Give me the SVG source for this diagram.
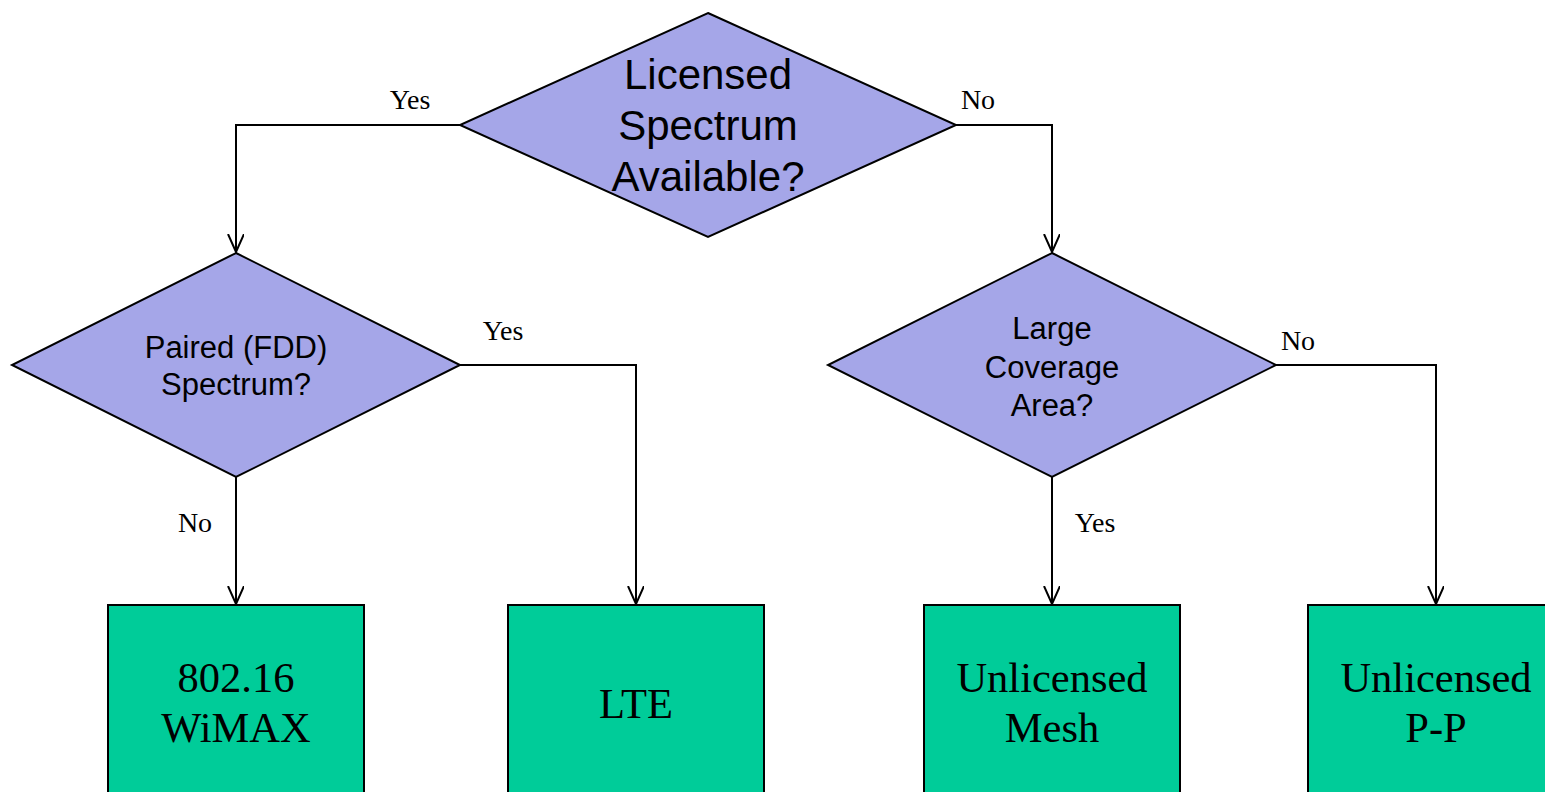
<svg xmlns="http://www.w3.org/2000/svg" width="1545" height="792" viewBox="0 0 1545 792">
<style>
.d{fill:#A5A6E8;stroke:#000;stroke-width:2}
.b{fill:#00CC99;stroke:#000;stroke-width:2}
.c{fill:none;stroke:#000;stroke-width:2}
.a{font-family:"Liberation Sans",Arial,sans-serif;fill:#000;text-anchor:middle}
.t{font-family:"Liberation Serif","Times New Roman",serif;fill:#000;text-anchor:middle}
.l{font-family:"Liberation Serif","Times New Roman",serif;fill:#000;font-size:28px;text-anchor:middle}
</style>
<defs>
<marker id="arr" markerWidth="20" markerHeight="20" refX="18" refY="8" orient="auto" markerUnits="userSpaceOnUse">
<path d="M0,0 L18,8 L0,16" fill="none" stroke="#000" stroke-width="2"/>
</marker>
</defs>
<g id="connectors">
<path class="c" d="M460,125 H236 V252" marker-end="url(#arr)"/>
<path class="c" d="M956,125 H1052 V252" marker-end="url(#arr)"/>
<path class="c" d="M460,365 H636 V604" marker-end="url(#arr)"/>
<path class="c" d="M236,477 V604" marker-end="url(#arr)"/>
<path class="c" d="M1052,477 V604" marker-end="url(#arr)"/>
<path class="c" d="M1276,365 H1436 V604" marker-end="url(#arr)"/>
<text class="l" x="410" y="109">Yes</text>
<text class="l" x="978" y="109">No</text>
<text class="l" x="503" y="340">Yes</text>
<text class="l" x="195" y="532">No</text>
<text class="l" x="1095" y="532">Yes</text>
<text class="l" x="1298" y="350">No</text>
</g>
<g id="licensed">
<polygon class="d" points="708,13 956,125 708,237 460,125"/>
<text class="a" font-size="42" x="708" y="89">Licensed</text>
<text class="a" font-size="42" x="708" y="140">Spectrum</text>
<text class="a" font-size="42" x="708" y="191">Available?</text>
</g>
<g id="paired">
<polygon class="d" points="236,253 460,365 236,477 12,365"/>
<text class="a" font-size="31" x="236" y="358">Paired (FDD)</text>
<text class="a" font-size="31" x="236" y="395">Spectrum?</text>
</g>
<g id="coverage">
<polygon class="d" points="1052,253 1276,365 1052,477 828,365"/>
<text class="a" font-size="31" x="1052" y="339">Large</text>
<text class="a" font-size="31" x="1052" y="378">Coverage</text>
<text class="a" font-size="31" x="1052" y="416">Area?</text>
</g>
<g id="wimax">
<rect class="b" x="108" y="605" width="256" height="200"/>
<text class="t" font-size="42.5" x="236" y="692">802.16</text>
<text class="t" font-size="42.5" x="236" y="742">WiMAX</text>
</g>
<g id="lte">
<rect class="b" x="508" y="605" width="256" height="200"/>
<text class="t" font-size="42.5" x="636" y="718">LTE</text>
</g>
<g id="mesh">
<rect class="b" x="924" y="605" width="256" height="200"/>
<text class="t" font-size="42.5" x="1052" y="692">Unlicensed</text>
<text class="t" font-size="42.5" x="1052" y="742">Mesh</text>
</g>
<g id="pp">
<rect class="b" x="1308" y="605" width="256" height="200"/>
<text class="t" font-size="42.5" x="1436" y="692">Unlicensed</text>
<text class="t" font-size="42.5" x="1436" y="742">P-P</text>
</g>
</svg>
